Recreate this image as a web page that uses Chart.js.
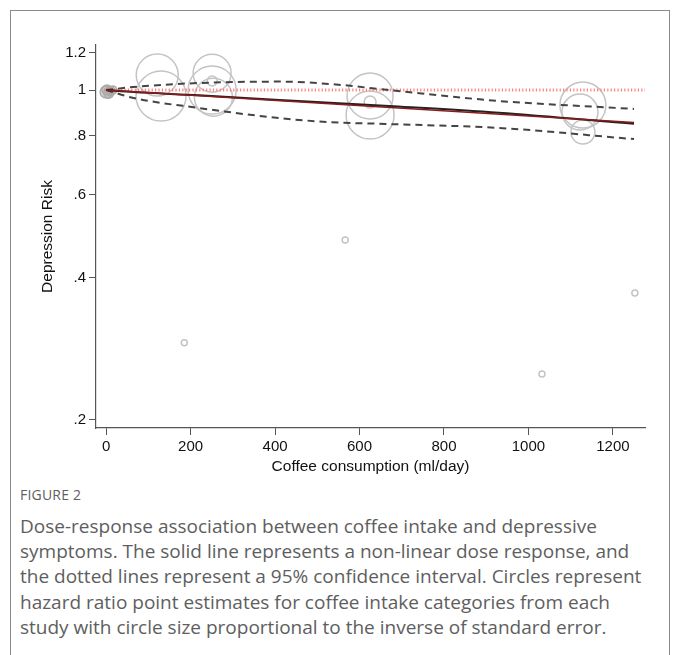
<!DOCTYPE html>
<html>
<head>
<meta charset="utf-8">
<script src="https://cdn.jsdelivr.net/npm/chart.js@4.4.1/dist/chart.umd.min.js"></script>
<style>
  body { margin: 0; background: #fff; }
  #frame { position: absolute; left: 10px; top: 10px; width: 658px; height: 700px; border: 1px solid #8a8a8a; }
  #plot { position: absolute; left: 0; top: 0; width: 680px; height: 480px; }
  #caption { position: absolute; left: 20px; top: 485px; font-family: "Open Sans", "Noto Sans", sans-serif; color: #5e5e5e; white-space: nowrap; }
  #caption .fig { font-size: 14px; line-height: 20px; letter-spacing: 0.2px; margin-bottom: 9px; }
  #caption .txt { font-size: 19px; line-height: 25.2px; }
</style>
</head>
<body>
<div id="frame"></div>
<div id="plot"><canvas id="doseChart" width="680" height="480"></canvas></div>
<div id="caption">
  <div class="fig">FIGURE 2</div>
  <div class="txt">Dose-response association between coffee intake and depressive<br>symptoms. The solid line represents a non-linear dose response, and<br>the dotted lines represent a 95% confidence interval. Circles represent<br>hazard ratio point estimates for coffee intake categories from each<br>study with circle size proportional to the inverse of standard error.</div>
</div>
<script>
// axis ticks
const xTicks = [0, 200, 400, 600, 800, 1000, 1200];
const yTicks = [0.2, 0.4, 0.6, 0.8, 1, 1.2];
const yTickLabels = ['.2', '.4', '.6', '.8', '1', '1.2'];

// study estimates (dose ml/day, relative risk, inverse standard error)
const refDose = [0, 2, 6, 10, 16];
const refRisk = [0.99, 1.0, 0.985, 0.995, 1.0];
const refInvSE = [1.2, 1.0, 1.0, 0.9, 0.8];

const studyDose = [121, 130, 251, 251, 254, 251, 625, 625, 625, 1129, 1122, 1129, 185, 566, 1032, 1252];
const studyRisk = [1.076, 0.971, 1.086, 1.0, 0.966, 1.045, 0.971, 0.885, 0.943, 0.929, 0.898, 0.815, 0.291, 0.481, 0.250, 0.371];
const studyInvSE = [4.2, 5.0, 3.8, 4.8, 3.8, 1.0, 4.6, 4.8, 1.2, 4.6, 3.6, 2.4, 0.6, 0.6, 0.6, 0.6];

// fitted curves
const curveDose = [0, 65, 220, 410, 530, 670, 930, 1250];
const fitRisk = [1.0, 0.99, 0.975, 0.952, 0.940, 0.925, 0.895, 0.848];
const upperCI = [1.0, 1.015, 1.035, 1.042, 1.030, 1.0, 0.948, 0.912];
const lowerCI = [1.0, 0.962, 0.916, 0.872, 0.855, 0.847, 0.831, 0.787];
const linearDose = [0, 1250];
const linearRisk = [1.0, 0.853];
const refLineDose = [-5, 1276];
const refLineRisk = [1, 1];

const radiusScale = 5;

function pts(xs, ys) {
    return xs.map((x, i) => ({ x: x, y: ys[i] }));
}

const axisColor = '#555';
const tickFont = { family: 'Liberation Sans, Arial, sans-serif', size: 15 };
const titleFont = { family: 'Liberation Sans, Arial, sans-serif', size: 15.5 };

const ctx = document.getElementById('doseChart').getContext('2d');
const doseChart = new Chart(ctx, {
    type: 'scatter',
    data: {
        datasets: [
            {
                // non-linear fit
                data: pts(curveDose, fitRisk),
                showLine: true,
                borderColor: '#222',
                borderWidth: 2,
                pointRadius: 0,
                cubicInterpolationMode: 'monotone',
                order: 1
            },
            {
                // linear fit
                data: pts(linearDose, linearRisk),
                showLine: true,
                borderColor: '#8b1a1a',
                borderWidth: 1.5,
                pointRadius: 0,
                order: 0
            },
            {
                data: pts(curveDose, upperCI),
                showLine: true,
                borderColor: '#444',
                borderWidth: 2,
                borderDash: [7, 5],
                pointRadius: 0,
                cubicInterpolationMode: 'monotone',
                order: 2
            },
            {
                data: pts(curveDose, lowerCI),
                showLine: true,
                borderColor: '#444',
                borderWidth: 2,
                borderDash: [7, 5],
                pointRadius: 0,
                cubicInterpolationMode: 'monotone',
                order: 2
            },
            {
                // reference line at risk = 1
                data: pts(refLineDose, refLineRisk),
                showLine: true,
                borderColor: '#ff8080',
                borderWidth: 3,
                borderDash: [1.2, 2.2],
                pointRadius: 0,
                order: 3
            },
            {
                data: pts(studyDose, studyRisk),
                pointRadius: studyInvSE.map(v => v * radiusScale),
                pointBackgroundColor: 'rgba(0,0,0,0)',
                pointBorderColor: '#c4c4c4',
                pointBorderWidth: 1.5,
                order: 5
            },
            {
                data: pts(refDose, refRisk),
                pointRadius: refInvSE.map(v => v * radiusScale),
                pointBackgroundColor: 'rgba(170,170,170,0.45)',
                pointBorderColor: '#aaa',
                pointBorderWidth: 1.5,
                order: 4
            }
        ]
    },
    options: {
        responsive: false,
        animation: false,
        layout: { padding: { left: 0, top: 45, right: 35, bottom: 0 } },
        plugins: { legend: { display: false }, tooltip: { enabled: false } },
        scales: {
            x: {
                type: 'linear',
                min: -24,
                max: 1276,
                afterBuildTicks: scale => { scale.ticks = xTicks.map(v => ({ value: v })); },
                afterFit: scale => { scale.height = 52; },
                ticks: { color: '#111', font: tickFont, padding: 3, maxRotation: 0, callback: v => String(v) },
                grid: { drawOnChartArea: false, color: axisColor, tickLength: 7 },
                border: { color: axisColor, width: 1.2 },
                title: {
                    display: true,
                    text: 'Coffee consumption (ml/day)',
                    color: '#111',
                    font: titleFont,
                    padding: { top: 0, bottom: 4 }
                }
            },
            y: {
                type: 'logarithmic',
                min: 0.192,
                max: 1.246,
                afterBuildTicks: scale => { scale.ticks = yTicks.map(v => ({ value: v })); },
                afterFit: scale => { scale.width = 96; },
                ticks: {
                    color: '#111',
                    font: tickFont,
                    padding: 3,
                    callback: (value, index) => yTickLabels[index]
                },
                grid: { drawOnChartArea: false, color: axisColor, tickLength: 7 },
                border: { color: axisColor, width: 1.2 },
                title: {
                    display: true,
                    text: 'Depression Risk',
                    color: '#111',
                    font: titleFont,
                    padding: { top: 38, bottom: 0 }
                }
            }
        }
    }
});
</script>
</body>
</html>
